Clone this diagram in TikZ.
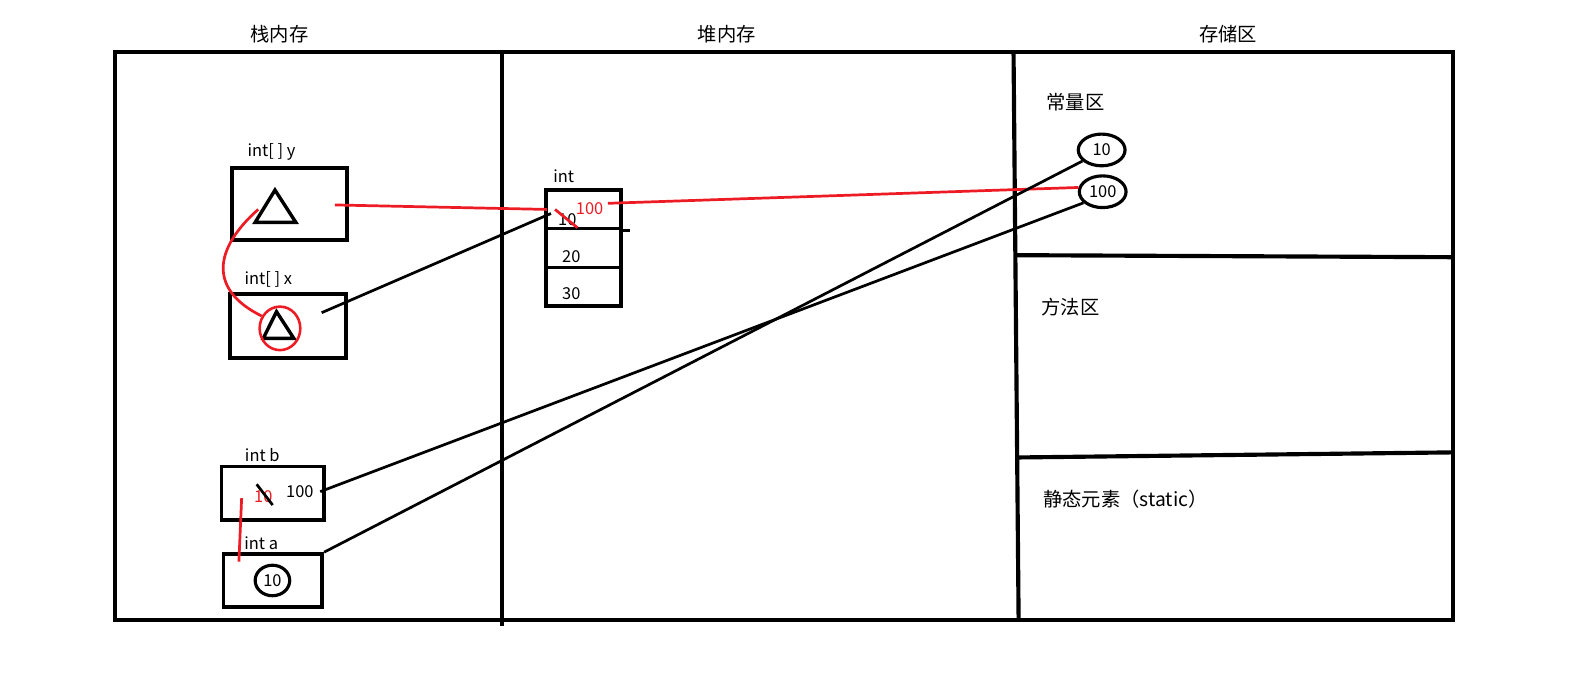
\documentclass[tikz,border=0pt]{standalone}
\usepackage{fontspec}
\setmainfont{Noto Sans CJK SC}
\usetikzlibrary{shapes.geometric,positioning}
\definecolor{paintred}{RGB}{237,28,36}
\newcommand{\valfont}{\fontsize{11.5pt}{13.5pt}\selectfont}
\newcommand{\zhfont}{\fontsize{13.5pt}{16pt}\selectfont}
\tikzset
{
    region/.style    = {draw=black, line width=2.9pt},
    stackbox/.style  = {rectangle, draw=black, line width=2.6pt, inner sep=0pt},
    heapcell/.style  = {rectangle, draw=black, line width=2.4pt, minimum width=1.85cm, minimum height=0.95cm, inner sep=0pt},
    constval/.style  = {ellipse, draw=black, line width=2.2pt, minimum width=1.15cm, minimum height=0.78cm, inner sep=0pt, font=\valfont},
    vartag/.style    = {inner sep=0pt, font=\valfont},
    zonetitle/.style = {inner sep=0pt, font=\zhfont},
    trisign/.style   = {draw=black, line width=2.4pt, line join=miter},
    blackline/.style = {draw=black, line width=1.9pt},
    redline/.style   = {draw=paintred, line width=1.9pt}
}

\begin{document}
\begin{tikzpicture}[x=0.025cm, y=-0.025cm]
	\useasboundingbox (0,0) rectangle (1568,666);
	% memory regions
	\draw[region] (113,51) rectangle (1429,610);
	\draw[region] (494,51) -- (494,616);
	\draw[region] (997,51) -- (1002,610);
	\draw[region] (999,251) -- (1429,253);
	\draw[region] (1001,450) -- (1429,445);
	\node[zonetitle] (stackT) at (275,34) {栈内存};
	\node[zonetitle] (heapT) at (715,34) {堆内存};
	\node[zonetitle] (storeT) at (1208,34) {存储区};
	\node[zonetitle] (constT) at (1058,100) {常量区};
	\node[zonetitle] (methodT) at (1053,302) {方法区};
	\node[zonetitle] (staticT) at (1107,491) {静态元素（static）};
	% stack
	\node[stackbox, minimum width=2.825cm, minimum height=1.76cm] (boxY) at (284.5,200.8) {};
	\node[stackbox, minimum width=2.85cm, minimum height=1.575cm] (boxX) at (283,320.5) {};
	\node[stackbox, minimum width=2.525cm, minimum height=1.31cm] (boxB) at (268.5,485) {};
	\node[stackbox, minimum width=2.425cm, minimum height=1.3cm] (boxA) at (268.5,571) {};
	\node[vartag] (tagY) at (267,149) {int[ ] y};
	\node[vartag] (tagX) at (264,275) {int[ ] x};
	\node[vartag] (tagB) at (258,448) {int b};
	\node[vartag] (tagA) at (257,534) {int a};
	\draw[trisign] (270.5,187) -- (291,218.7) -- (251,218.7) -- cycle;
	\draw[trisign] (272,306.6) -- (289,332.8) -- (259,332.8) -- cycle;
	\node[ellipse, draw=paintred, line width=1.8pt, minimum width=1.0cm, minimum height=1.07cm, inner sep=0pt] (ringX) at (275.4,323) {};
	\node[ellipse, draw=black, line width=2.2pt, minimum width=0.85cm, minimum height=0.75cm, inner sep=0pt, font=\valfont] (valA) at (268,571) {10};
	\node[vartag] (valB) at (295,483.6) {100};
	\node[vartag, text=paintred] (oldB) at (259,488.6) {10};
	\draw[blackline] (252.5,476.4) -- (268.2,496.8);
	% heap
	\node[vartag] (tagArr) at (554.5,173) {int};
	\node[heapcell] (cellA) at (574,206) {};
	\node[heapcell] (cellB) at (574,244) {};
	\node[heapcell] (cellC) at (574,282) {};
	\draw[draw=black, line width=2.4pt] (cellA.south east) -- ++(7,0);
	\node[vartag] (valA1) at (558,216.5) {10};
	\node[vartag, text=paintred] (newA1) at (580,205.6) {100};
	\draw[redline] (546,206) -- (568,224);
	\node[vartag] (valA2) at (562,252) {20};
	\node[vartag] (valA3) at (562,289) {30};
	% constants
	\node[constval] (cpool10) at (1083.7,147.5) {10};
	\node[constval] (cpool100) at (1084.7,188.6) {100};
	% references
	\coordinate (refY) at (329.5,201.6);
	\coordinate (refX) at (316.4,307.6);
	\coordinate (refB) at (315,483.6);
	\coordinate (headA) at (538,206);
	\coordinate (headX) at (542,210);
	\coordinate (outA) at (598,200);
	\coordinate (ptrY) at (254,206);
	\coordinate (copyB) at (237.7,490);
	\coordinate (copyA) at (235,552.5);
	\draw[redline] (refY) -- (headA);
	\draw[blackline] (refX) -- (headX);
	\draw[redline] (outA) -- (cpool100.170);
	\draw[blackline] (refB) -- (cpool100.210);
	\draw[blackline] (boxA.north east) -- (cpool10.210);
	\draw[redline] (ptrY) .. controls (210,245) and (205,285) .. (ringX.146);
	\draw[redline] (copyB) -- (copyA);
\end{tikzpicture}
\end{document}
